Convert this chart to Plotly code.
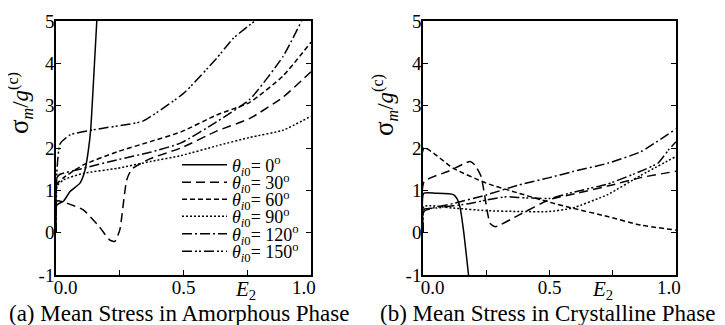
import plotly.graph_objects as go

angles = ["0", "30", "60", "90", "120", "150"]
dashes = ["solid", "9px,5px", "5px,3px", "2px,2px", "10px,3px,2px,3px", "10px,3px,2px,2px,2px,3px"]

# Panel (a): Mean stress in amorphous phase
a0_x = [0, 0.003, 0.03, 0.055, 0.094, 0.114, 0.127, 0.136, 0.15, 0.16]
a0_y = [0, 0.65, 0.75, 0.97, 1.17, 1.48, 1.95, 2.43, 3.9, 5.0]
a30_x = [0, 0.004, 0.05, 0.107, 0.17, 0.21, 0.23, 0.25, 0.277, 0.297, 0.37, 0.49, 0.63, 0.76, 0.89, 1.0]
a30_y = [0, 0.75, 0.68, 0.54, 0.14, -0.17, -0.21, 0.06, 1.24, 1.5, 1.75, 2.0, 2.4, 2.7, 3.2, 3.8]
a60_x = [0, 0.004, 0.03, 0.107, 0.24, 0.37, 0.49, 0.63, 0.76, 0.89, 1.0]
a60_y = [0, 1.15, 1.3, 1.6, 1.91, 2.15, 2.38, 2.78, 3.08, 3.7, 4.5]
a90_x = [0, 0.004, 0.03, 0.107, 0.24, 0.37, 0.49, 0.63, 0.76, 0.89, 1.0]
a90_y = [0, 1.1, 1.25, 1.4, 1.52, 1.68, 1.82, 2.05, 2.25, 2.42, 2.75]
a120_x = [0, 0.004, 0.016, 0.107, 0.24, 0.37, 0.49, 0.63, 0.76, 0.89, 0.963]
a120_y = [0, 1.3, 1.38, 1.52, 1.72, 1.9, 2.12, 2.62, 3.15, 4.16, 5.0]
a150_x = [0, 0.004, 0.016, 0.055, 0.146, 0.303, 0.343, 0.5, 0.63, 0.695, 0.78]
a150_y = [0, 1.5, 2.1, 2.31, 2.43, 2.58, 2.64, 3.29, 4.12, 4.59, 5.0]

# Panel (b): Mean stress in crystalline phase
b0_x = [0, 0.003, 0.05, 0.12, 0.135, 0.146, 0.16, 0.18]
b0_y = [0, 0.93, 0.93, 0.9, 0.8, 0.61, 0.06, -1.0]
b30_x = [0, 0.004, 0.1, 0.186, 0.205, 0.23, 0.265, 0.285, 0.38, 0.5, 0.6, 0.73, 0.86, 1.0]
b30_y = [0, 1.2, 1.45, 1.68, 1.6, 1.32, 0.22, 0.14, 0.42, 0.78, 0.92, 1.1, 1.3, 1.45]
b60_x = [0, 0.004, 0.12, 0.25, 0.38, 0.5, 0.59, 0.73, 0.86, 1.0]
b60_y = [0, 2.0, 1.52, 1.17, 0.93, 0.72, 0.58, 0.38, 0.18, 0.06]
b90_x = [0, 0.004, 0.12, 0.25, 0.38, 0.5, 0.59, 0.73, 0.86, 1.0]
b90_y = [0, 0.62, 0.58, 0.52, 0.5, 0.5, 0.58, 0.9, 1.35, 1.8]
b120_x = [0, 0.004, 0.12, 0.25, 0.38, 0.5, 0.59, 0.73, 0.86, 1.0]
b120_y = [0, 0.5, 0.69, 0.89, 1.13, 1.3, 1.44, 1.64, 1.91, 2.45]
b150_x = [0, 0.004, 0.05, 0.186, 0.25, 0.33, 0.38, 0.5, 0.59, 0.73, 0.86, 0.93, 0.97, 1.0]
b150_y = [0, 0.55, 0.58, 0.69, 0.77, 0.85, 0.83, 0.81, 0.95, 1.15, 1.45, 1.65, 1.95, 2.15]

x_tickvals = [0, 0.25, 0.5, 0.75, 1.0]
x_ticktext = ["\u00a0\u00a0\u00a0\u00a00.0", "", "0.5", "", "1.0\u00a0\u00a0\u00a0"]
y_tickvals = [-1, 0, 1, 2, 3, 4, 5]
y_ticktext = ["-1", "0", "1", "2", "3", "4", "5"]

panel_a = [(a0_x, a0_y), (a30_x, a30_y), (a60_x, a60_y), (a90_x, a90_y), (a120_x, a120_y), (a150_x, a150_y)]
panel_b = [(b0_x, b0_y), (b30_x, b30_y), (b60_x, b60_y), (b90_x, b90_y), (b120_x, b120_y), (b150_x, b150_y)]

FONT = "Liberation Serif"
OFF = 8  # page body margin offset
L, R, T, B = 48, 57, 13, 58
W = 725 - L - R
H = 325 - T - B
d1 = [0, 255 / W]
d2 = [(415 - L) / W, 1.0]

def px_x(sx):
    return (sx - OFF - L) / W

def px_y(sy):
    return 1 - (sy - OFF - T) / H

fig = go.Figure()
legend_names = ["legend"] + ["legend%d" % k for k in range(2, 7)]
for i, (xs, ys) in enumerate(panel_a):
    fig.add_trace(go.Scatter(
        x=xs, y=ys, mode="lines", xaxis="x", yaxis="y",
        line=dict(color="black", width=1.5, dash=dashes[i], shape="spline", smoothing=0.5),
        name="<i>θ</i><sub><i>i</i>0</sub>= " + angles[i] + "<sup>o</sup>",
        legend=legend_names[i], showlegend=True))
for i, (xs, ys) in enumerate(panel_b):
    fig.add_trace(go.Scatter(
        x=xs, y=ys, mode="lines", xaxis="x2", yaxis="y2",
        line=dict(color="black", width=1.5, dash=dashes[i], shape="spline", smoothing=0.5),
        showlegend=False))

axis_common = dict(showline=True, linecolor="black", linewidth=1.5, ticks="inside",
                   ticklen=5, tickwidth=1, tickcolor="black", showgrid=False, zeroline=False,
                   tickfont=dict(family=FONT, size=19, color="black"))
xax = dict(range=[0, 1], tickvals=x_tickvals, ticktext=x_ticktext, mirror=True, ticklabelstandoff=-6, **axis_common)
yax = dict(domain=[0, 1], range=[-1, 5], tickvals=y_tickvals, ticktext=y_ticktext, mirror="ticks",
           ticklabelstandoff=-4, **axis_common)

legend_rows = [165, 182.5, 199.5, 216.5, 234, 251.5]
legend_layout = {}
for i, nm in enumerate(legend_names):
    legend_layout[nm] = dict(x=px_x(177), y=px_y(legend_rows[i]), xanchor="left", yanchor="middle",
                             bgcolor="rgba(0,0,0,0)", borderwidth=0,
                             font=dict(family=FONT, size=18, color="black"),
                             itemwidth=45)

fig.update_layout(
    width=725, height=325,
    margin=dict(l=L, r=R, t=T, b=B, autoexpand=False),
    paper_bgcolor="white", plot_bgcolor="white",
    font=dict(family=FONT, color="black"),
    xaxis=dict(domain=d1, anchor="y", **xax),
    yaxis=dict(anchor="x", **yax),
    xaxis2=dict(domain=d2, anchor="y2", **xax),
    yaxis2=dict(anchor="x2", **yax),
    showlegend=True,
    **legend_layout,
)

ytitle = "<span style='font-size:27px'>σ</span><sub><i>m</i></sub>/<i>g</i><sup>(c)</sup>"
common_ann = dict(showarrow=False, xanchor="center", yanchor="middle")
fig.add_annotation(text=ytitle, xref="paper", yref="paper", x=px_x(20), y=px_y(103),
                   textangle=-90, font=dict(family=FONT, size=23, color="black"), **common_ann)
fig.add_annotation(text=ytitle, xref="paper", yref="paper", x=px_x(385), y=px_y(105),
                   textangle=-90, font=dict(family=FONT, size=23, color="black"), **common_ann)
fig.add_annotation(text="<i>E</i><sub>2</sub>", xref="x", yref="paper", x=0.745, y=px_y(290),
                   font=dict(family=FONT, size=21, color="black"), **common_ann)
fig.add_annotation(text="<i>E</i><sub>2</sub>", xref="x2", yref="paper", x=0.71, y=px_y(290),
                   font=dict(family=FONT, size=21, color="black"), **common_ann)
fig.add_annotation(text="(a) Mean Stress in Amorphous Phase", xref="paper", yref="paper",
                   x=px_x(179), y=px_y(313), font=dict(family=FONT, size=23, color="black"), **common_ann)
fig.add_annotation(text="(b) Mean Stress in Crystalline Phase", xref="paper", yref="paper",
                   x=px_x(547), y=px_y(313), font=dict(family=FONT, size=23, color="black"), **common_ann)

fig.write_html("out.html")
